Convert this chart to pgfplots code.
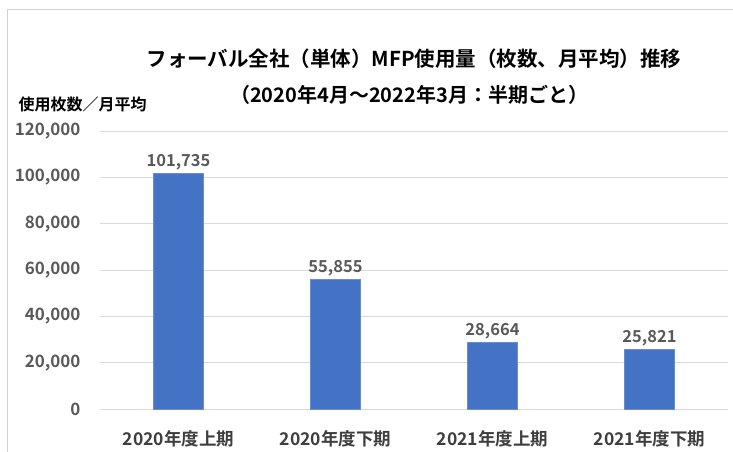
\documentclass[border=0pt]{standalone}
\usepackage{fontspec}
\setmainfont{Noto Sans CJK JP}[BoldFont={Noto Sans CJK JP Bold}]
\usepackage{pgfplots}
\pgfplotsset{compat=1.18}
\definecolor{barblue}{HTML}{4472C4}
\definecolor{ticktext}{HTML}{595959}
\definecolor{gridc}{HTML}{D9D9D9}
\begin{document}
\begin{tikzpicture}
\useasboundingbox (0pt,0pt) rectangle (733pt,452pt);
\draw[gray!35, line width=1pt] (7pt,-5pt) -- (7pt,442pt) -- (740pt,442pt);
\begin{axis}[
  at={(100pt,43pt)}, anchor=south west,
  scale only axis, width=628pt, height=278pt,
  xmin=-0.5, xmax=3.5, ymin=0, ymax=120000,
  ybar, bar width=50pt,
  axis line style={draw=none}, major tick style={draw=none},
  ymajorgrids, grid style={gridc, line width=0.9pt},
  scaled y ticks=false,
  ytick={0,20000,40000,60000,80000,100000,120000},
  yticklabels={0,{20,000},{40,000},{60,000},{80,000},{100,000},{120,000}},
  xtick={0,1,2,3},
  xticklabels={2020年度上期,2020年度下期,2021年度上期,2021年度下期},
  yticklabel style={font=\bfseries\fontsize{17}{19}\selectfont, text=ticktext, xshift=-16pt},
  xticklabel style={font=\bfseries\fontsize{17.5}{19}\selectfont, text=ticktext!70!black, yshift=-14pt},
  point meta=explicit symbolic,
  nodes near coords,
  nodes near coords style={font=\bfseries\fontsize{16.5}{18}\selectfont, text=ticktext, yshift=0pt},
  clip=false,
]
\addplot[fill=barblue, draw=barblue!80!white] coordinates {(0,101735) [101,735] (1,55855) [55,855] (2,28664) [28,664] (3,25821) [25,821]};
\end{axis}
\node[font=\bfseries\fontsize{20.5}{23}\selectfont] at (414pt,393pt) {フォーバル全社（単体）MFP使用量（枚数、月平均）推移};
\node[font=\bfseries\fontsize{20}{23}\selectfont] at (409pt,357pt) {（2020年4月～2022年3月：半期ごと）};
\node[font=\bfseries\fontsize{16}{18}\selectfont, anchor=west] at (15pt,348pt) {使用枚数／月平均};
\end{tikzpicture}
\end{document}
